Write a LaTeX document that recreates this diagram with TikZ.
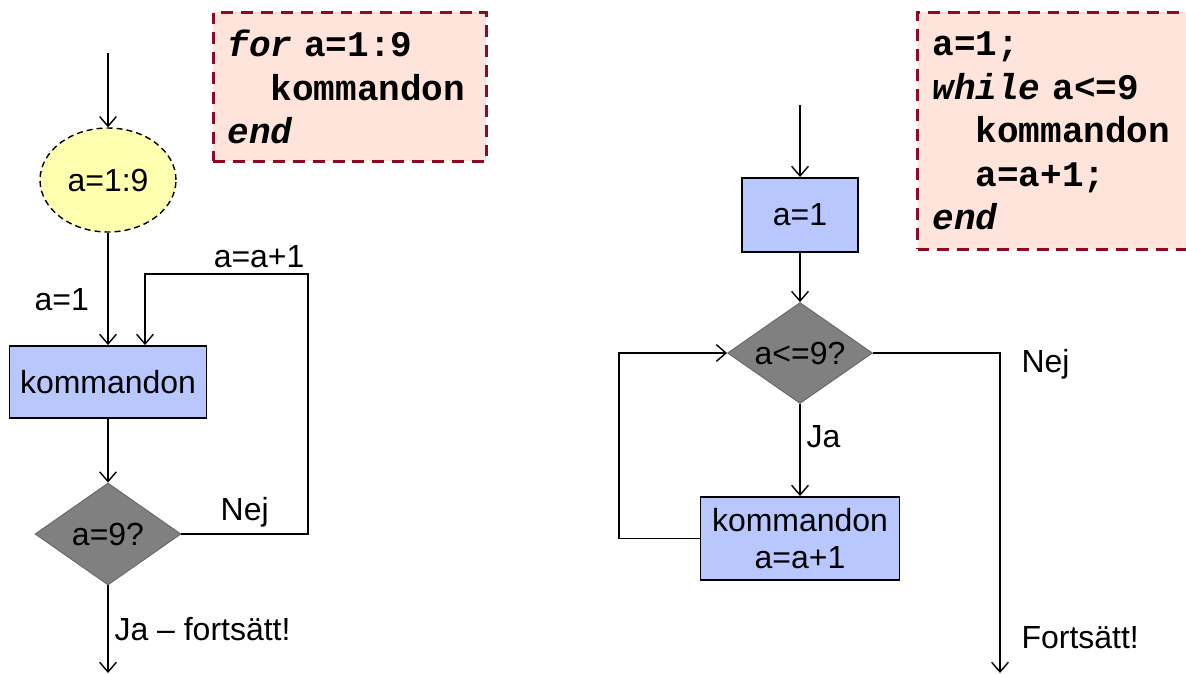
\documentclass[tikz,border=0pt]{standalone}
\usepackage{fontspec}
\setmainfont{Liberation Sans}
\newfontfamily\codigo{Liberation Mono}
\usetikzlibrary{arrows.meta,shapes.geometric,positioning}

\definecolor{azul}{HTML}{B8C8FF}
\definecolor{amarillo}{HTML}{FFFFB0}
\definecolor{gris}{HTML}{808080}
\definecolor{rosa}{HTML}{FEE4DA}
\definecolor{granate}{HTML}{8C0A23}

\begin{document}
\begin{tikzpicture}[x=0.02cm,y=-0.02cm,
  >={Straight Barb[length=5.5pt,width=9.5pt]},
  every node/.style={font=\fontsize{18.2}{21.5}\selectfont},
  flecha/.style={->,line width=0.8pt},
  caja/.style={rectangle,draw,line width=1.1pt,fill=azul,inner sep=0pt,align=center},
  rombo/.style={diamond,draw=black!60,line width=0.5pt,fill=gris,inner sep=0pt,shape aspect=1.43},
  rango/.style={ellipse,draw,line width=0.8pt,dash pattern=on 3.4pt off 2.3pt,fill=amarillo,inner sep=0pt},
  codigo/.style={rectangle,draw=granate,fill=rosa,line width=1.7pt,dash pattern=on 6.8pt off 4.5pt,
    anchor=north west,align=left,inner xsep=0.28cm,
    font=\codigo\bfseries\fontsize{20.5}{24.7}\selectfont}]

%marco de la figura
\useasboundingbox (0,0) rectangle (1186,673);

%bucle for
\node[rango,minimum width=2.72cm,minimum height=2.08cm] (rango1) at (108,180) {a=1:9};
\node[caja,minimum width=3.94cm,minimum height=1.44cm] (cmd1) at (108,382) {kommandon};
\node[rombo,minimum width=2.92cm,minimum height=2.04cm] (fin1) at (108,534) {a=9?};
\coordinate (ent1) at (108,53);
\coordinate (sal1) at (108,673);
\coordinate (vuelta1) at (308,274);
\coordinate (reentrada1) at (145,274);

\draw[flecha] (ent1) -- (rango1);
\draw[flecha] (rango1) -- node[pos=0.6,left=0.25cm] {a=1} (cmd1);
\draw[flecha] (cmd1) -- (fin1);
\draw[flecha] (fin1) -- node[right] {Ja – fortsätt!} (sal1);
\draw[flecha] (fin1.east) -- node[above] {Nej} (fin1.east -| vuelta1) -- (vuelta1)
  -- node[above,pos=0.3] {a=a+1} (reentrada1) -- (reentrada1 |- cmd1.north);

%codigo del for
\node[codigo,minimum width=5.46cm,minimum height=2.98cm,text width=4.9cm] (cod1) at (212,11)
  {{\itshape for} a=1:9\\ \hspace*{1.2em}kommandon\\ {\itshape end}};

%bucle while
\node[caja,minimum width=2.32cm,minimum height=1.48cm] (ini2) at (800,215) {a=1};
\node[rombo,minimum width=2.9cm,minimum height=2.02cm] (prueba2) at (800,353) {a<=9?};
\node[caja,minimum width=3.98cm,minimum height=1.66cm] (cmd2) at (800,538.5) {kommandon\\a=a+1};
\coordinate (ent2) at (800,105);
\coordinate (izq2) at (619,353);
\coordinate (giro2) at (1000,353);
\coordinate (sal2) at (1000,673);

\draw[flecha] (ent2) -- (ini2);
\draw[flecha] (ini2) -- (prueba2);
\draw[flecha] (prueba2) -- node[right,pos=0.35] {Ja} (cmd2);
\draw[flecha] (cmd2.west) -| (izq2) -- (prueba2.west);
\draw[flecha] (prueba2.east) -- (giro2)
  -- node[right=0.3cm,pos=0.035] {Nej} node[right=0.3cm,pos=0.89] {Fortsätt!} (sal2);

%codigo del while
\node[codigo,minimum width=6cm,minimum height=4.74cm,text width=5.4cm] (cod2) at (916,11)
  {a=1;\\ {\itshape while} a<=9\\ \hspace*{1.2em}kommandon\\ \hspace*{1.2em}a=a+1;\\ {\itshape end}};
\end{tikzpicture}
\end{document}
